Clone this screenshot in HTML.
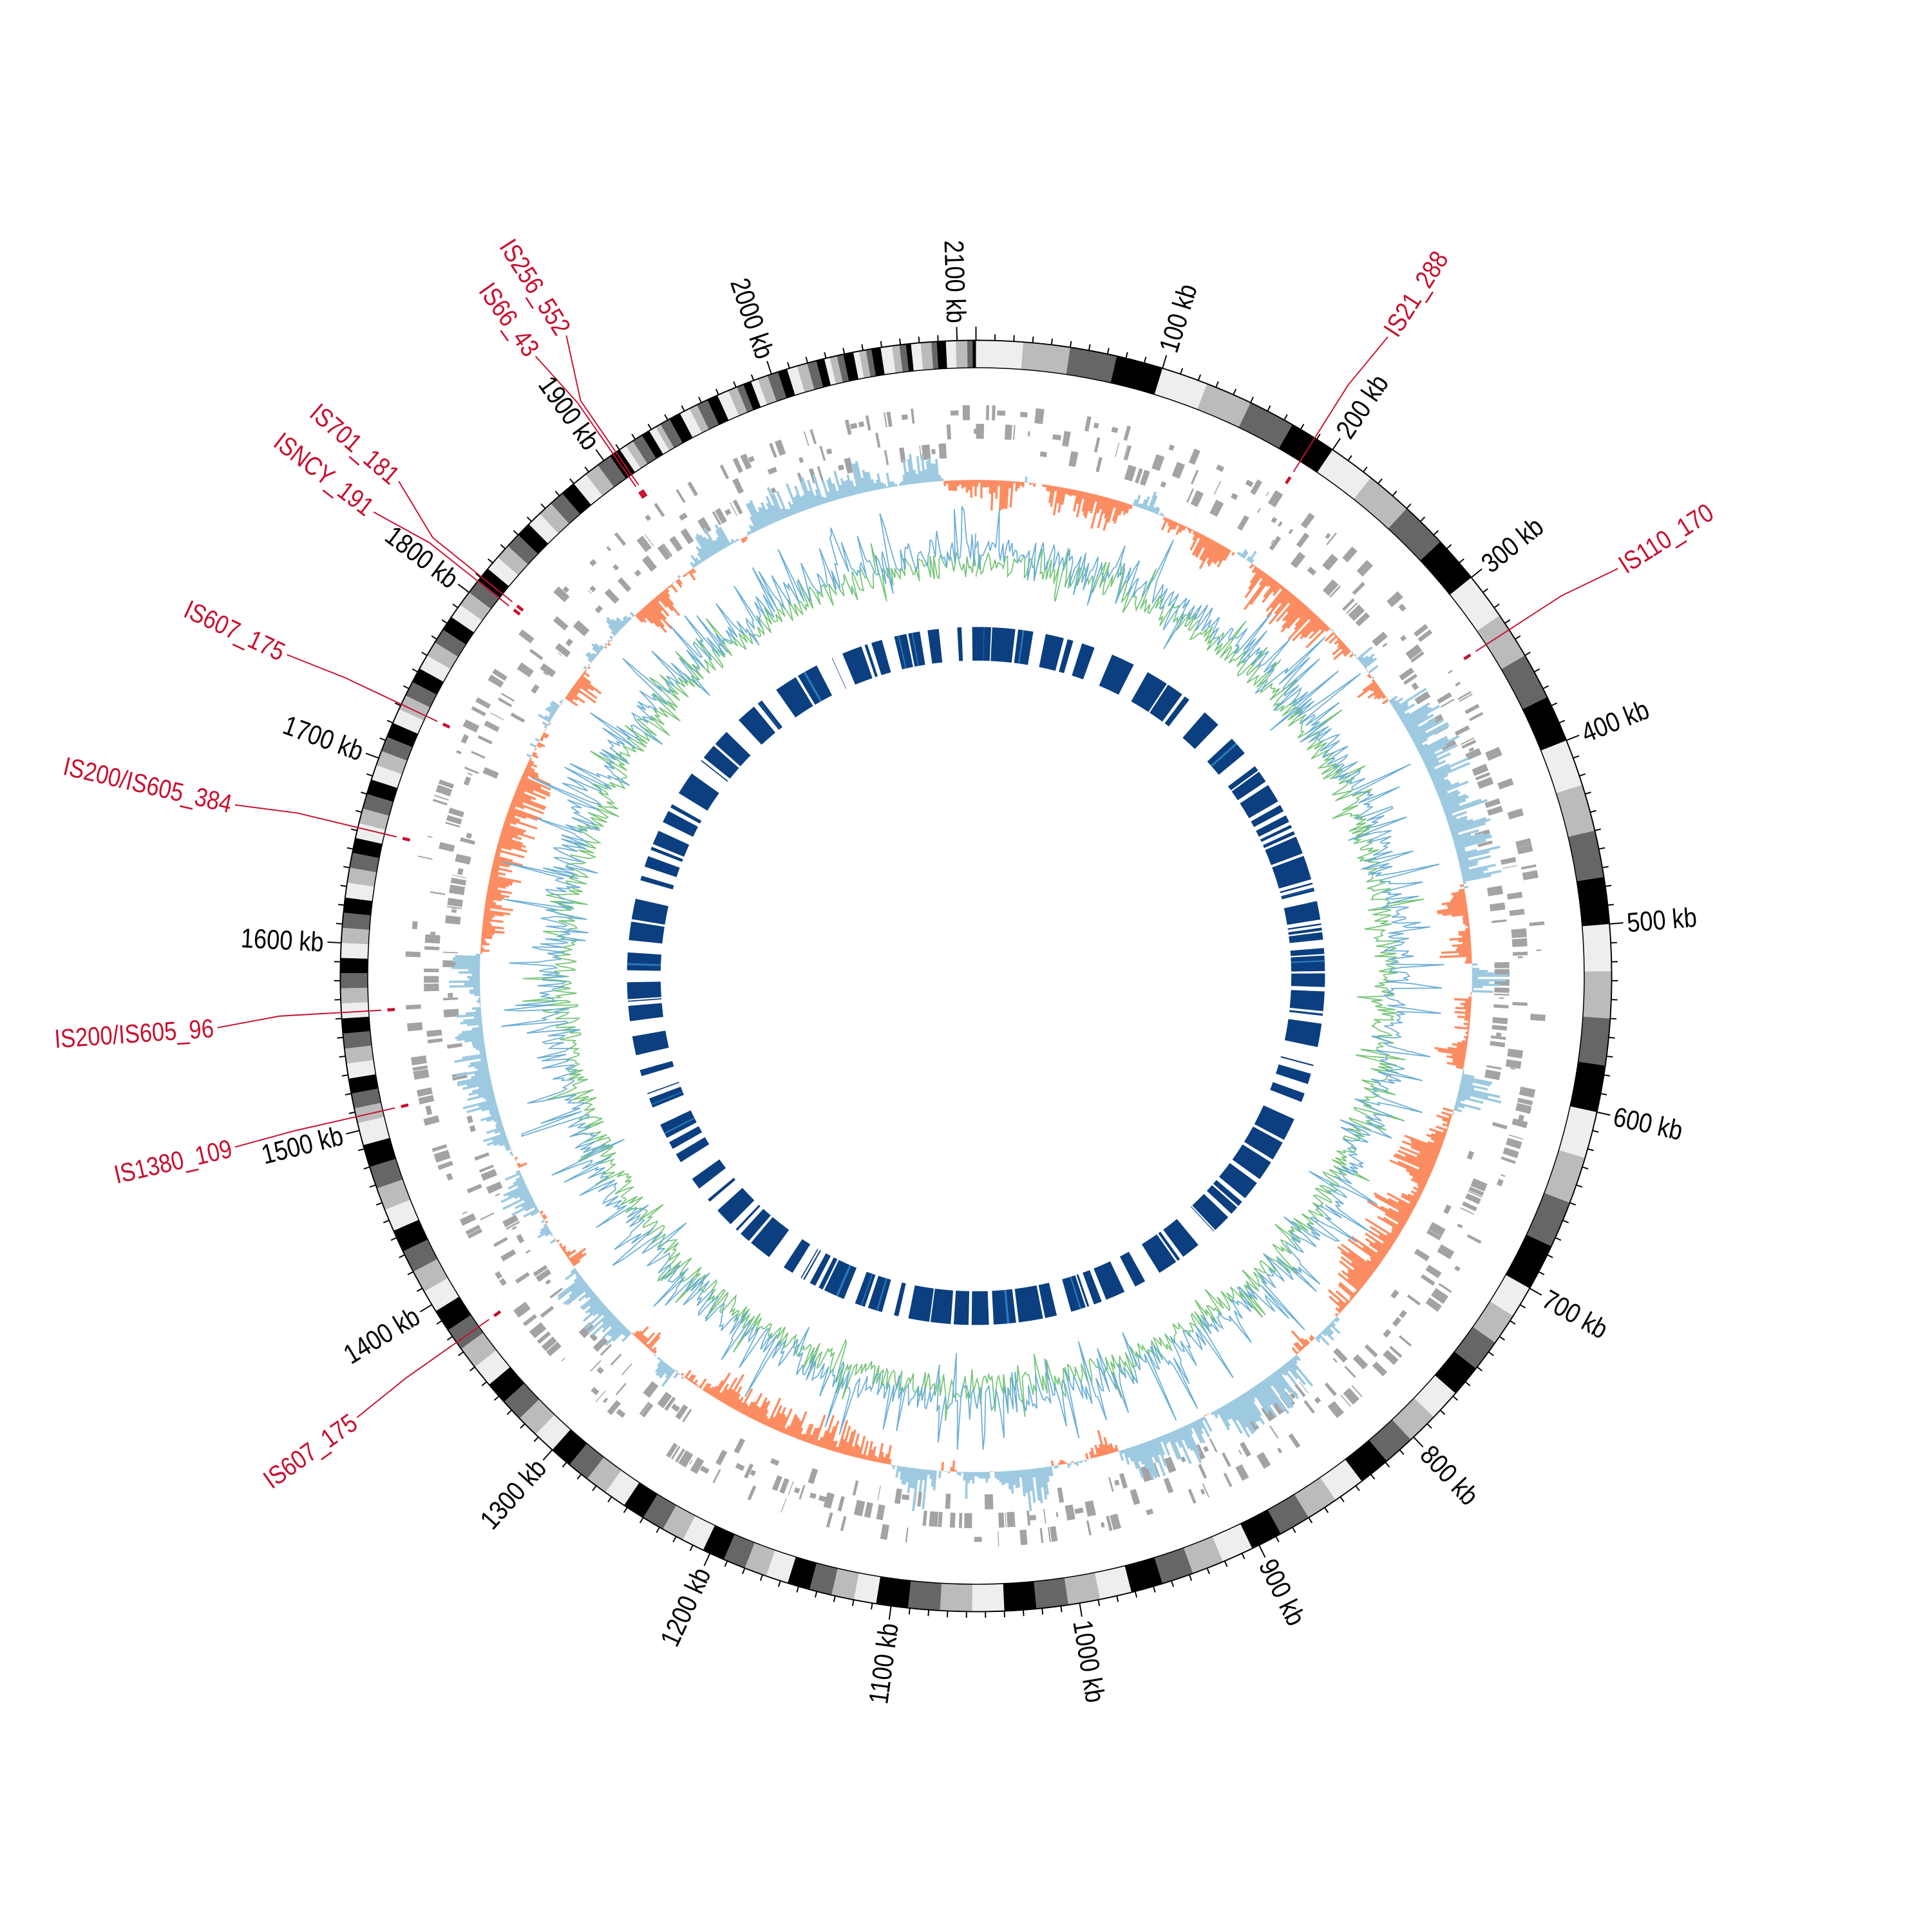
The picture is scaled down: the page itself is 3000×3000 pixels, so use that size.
<!DOCTYPE html>
<html><head><meta charset="utf-8">
<style>
html,body{margin:0;padding:0;background:#fff;}
svg{display:block;}
text{font-family:"Liberation Sans Narrow","Liberation Sans",sans-serif;}
.kb{font-size:22px;fill:#000;}
.is{font-size:21px;fill:#c8102e;}
</style></head>
<body>
<svg id="s" width="3000" height="3000" viewBox="0 0 1550 1550" xmlns="http://www.w3.org/2000/svg">
<rect width="1550" height="1550" fill="#fff"/>
<g id="tracks"></g>
<g id="labels">
<text class="kb" kb="100">100 kb</text>
<text class="kb" kb="200">200 kb</text>
<text class="kb" kb="300">300 kb</text>
<text class="kb" kb="400">400 kb</text>
<text class="kb" kb="500">500 kb</text>
<text class="kb" kb="600">600 kb</text>
<text class="kb" kb="700">700 kb</text>
<text class="kb" kb="800">800 kb</text>
<text class="kb" kb="900">900 kb</text>
<text class="kb" kb="1000">1000 kb</text>
<text class="kb" kb="1100">1100 kb</text>
<text class="kb" kb="1200">1200 kb</text>
<text class="kb" kb="1300">1300 kb</text>
<text class="kb" kb="1400">1400 kb</text>
<text class="kb" kb="1500">1500 kb</text>
<text class="kb" kb="1600">1600 kb</text>
<text class="kb" kb="1700">1700 kb</text>
<text class="kb" kb="1800">1800 kb</text>
<text class="kb" kb="1900">1900 kb</text>
<text class="kb" kb="2000">2000 kb</text>
<text class="kb" kb="2100">2100 kb</text>
<text class="is" mark="32.2" lab="32.8">IS21_288</text>
<text class="is" mark="57" lab="57.6">IS110_170</text>
<text class="is" mark="234.8" lab="234.5">IS607_175</text>
<text class="is" mark="257.2" lab="257">IS1380_109</text>
<text class="is" mark="266.7" lab="266.1">IS200/IS605_96</text>
<text class="is" mark="283.5" lab="283">IS200/IS605_384</text>
<text class="is" mark="295.3" lab="295">IS607_175</text>
<text class="is" mark="308.4" lab="307.6">ISNCY_191</text>
<text class="is" mark="308.9" lab="310.6">IS701_181</text>
<text class="is" mark="325.2" lab="324.6">IS66_43</text>
<text class="is" mark="325.5" lab="327.4">IS256_552</text>
</g>
</svg>
<script>
(function(){
var NS="http://www.w3.org/2000/svg";
var cx=783,cy=783,T=2110;
var G=document.getElementById("tracks");
function A(kb){return kb/T*360;}
function P(r,a){var t=a*Math.PI/180;return [cx+r*Math.sin(t),cy-r*Math.cos(t)];}
function f(n){return n.toFixed(2);}
function sector(r1,r2,a1,a2){
 var p1=P(r2,a1),p2=P(r2,a2),p3=P(r1,a2),p4=P(r1,a1);var lg=(a2-a1)>180?1:0;
 return "M"+f(p1[0])+","+f(p1[1])+"A"+r2+","+r2+" 0 "+lg+" 1 "+f(p2[0])+","+f(p2[1])+"L"+f(p3[0])+","+f(p3[1])+"A"+r1+","+r1+" 0 "+lg+" 0 "+f(p4[0])+","+f(p4[1])+"Z";}
function el(tag,at,parent){var e=document.createElementNS(NS,tag);for(var k in at)e.setAttribute(k,at[k]);(parent||G).appendChild(e);return e;}
var seed=12345;function R(){seed|=0;seed=seed+0x6D2B79F5|0;var t=Math.imul(seed^seed>>>15,1|seed);t=t+Math.imul(t^t>>>7,61|t)^t;return((t^t>>>14)>>>0)/4294967296;}

var cols=["#eeeeee","#bbbbbb","#666666","#000000"];var kb=0,i=0,ds=[[],[],[],[]];
while(kb<T){var w=kb<700?25:kb<1100?17:kb<1500?12:kb<1900?8:4.5;
 if(kb>=1900)w*=0.6+R()*0.8;
 var e=Math.min(kb+w,T);ds[i%4].push(sector(488,510,A(kb),A(e)));kb=e;i++;}
for(var c=0;c<4;c++)el("path",{d:ds[c].join(""),fill:cols[c]});
el("circle",{cx:cx,cy:cy,r:510,fill:"none",stroke:"#000","stroke-width":1});
el("circle",{cx:cx,cy:cy,r:488,fill:"none",stroke:"#000","stroke-width":0.8});
var td="";for(var k=0;k<T;k+=10){var big=k%100==0;var a=A(k);var p=P(510,a),q=P(big?521:515,a);td+="M"+f(p[0])+","+f(p[1])+"L"+f(q[0])+","+f(q[1]);}
el("path",{d:td,stroke:"#000","stroke-width":1,fill:"none"});

var gd="";kb=0;while(kb<T){var L=0.4+R()*5;var lane=R();var r1,r2;
 if(lane<0.33){r1=446;r2=458;}else if(lane<0.66){r1=431;r2=443;}else{r1=416;r2=428;}
 if(R()<0.25){r1+=4;r2-=4;}
 gd+=sector(r1,r2,A(kb),A(kb+L));kb+=L+R()*2.5;}
el("path",{d:gd,fill:"#a3a3a3"});

var ph=[R()*6,R()*6,R()*6,R()*6];
function n(k){return Math.sin(k/37+ph[0])*0.6+Math.sin(k/83+ph[1])*0.8+Math.sin(k/13+ph[2])*0.5+Math.sin(k/6+ph[3])*0.35;}
var bp="",op="";for(k=0;k<T;k+=1.5){var v=n(k)+(R()-0.5)*0.5;var amp=Math.min(1,Math.abs(v)*1.2)*(0.15+0.85*R())*(k>200&&k<1100?36:28);
 if(v>=0)bp+=sector(398,398+amp,A(k),A(k+1.55));else op+=sector(398-amp,398,A(k),A(k+1.55));}
el("path",{d:bp,fill:"#9ecae1"});el("path",{d:op,fill:"#fc8d62"});

function line(base,amp,col,sp,pr){var s="";for(k=0;k<=T;k+=1.4){var r=base+(R()-0.5)*amp;if(R()<pr)r+=(R()-0.4)*sp;var p=P(r,A(k));s+=(k==0?"M":"L")+f(p[0])+","+f(p[1]);}
 el("path",{d:s,fill:"none",stroke:col,"stroke-width":0.9});}
line(330,20,"#74c476",45,0.15);line(340,24,"#6baed6",70,0.2);

var idp="",ldp="";kb=0;while(kb<T){var L=2+R()*22;if(R()<0.2)L=0.5+R()*2;
 idp+=sector(253,280,A(kb),A(kb+L));if(R()<0.15)ldp+=sector(253,280,A(kb+L*0.3),A(kb+L*0.4));
 kb+=L+(R()<0.5?1+R()*4:4+R()*16);}
el("path",{d:idp,fill:"#0b3f80"});el("path",{d:ldp,fill:"#2b7bba"});

var labs=document.querySelectorAll("text.kb");
for(i=0;i<labs.length;i++){var t=labs[i];var a=A(+t.getAttribute("kb"));var p=P(524,a);
 var right=a<180;t.setAttribute("x",0);t.setAttribute("y",0);t.setAttribute("dy","0.35em");
 t.setAttribute("text-anchor",right?"start":"end");
 t.setAttribute("transform","translate("+f(p[0])+","+f(p[1])+") rotate("+f(right?a-90:a+90)+") scale(0.85,1)");}
var isl=document.querySelectorAll("text.is");
for(i=0;i<isl.length;i++){var t=isl[i];var m=+t.getAttribute("mark"),la=+t.getAttribute("lab");
 el("path",{d:sector(467,473,m-0.15,m+0.15),fill:"#c8102e"});
 var p1=P(478,m),p2=P(560,m),p3=P(610,la);
 el("path",{d:"M"+f(p1[0])+","+f(p1[1])+"L"+f(p2[0])+","+f(p2[1])+"L"+f(p3[0])+","+f(p3[1]),fill:"none",stroke:"#c8102e","stroke-width":1});
 var p=P(613,la);var right=la<180;t.setAttribute("x",0);t.setAttribute("y",0);t.setAttribute("dy","0.35em");
 t.setAttribute("text-anchor",right?"start":"end");
 t.setAttribute("transform","translate("+f(p[0])+","+f(p[1])+") rotate("+f(right?la-90:la+90)+") scale(0.85,1)");}
})();
</script>
</body></html>
